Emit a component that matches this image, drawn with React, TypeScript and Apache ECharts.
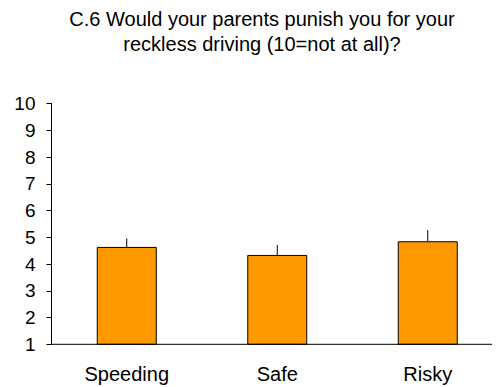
import React, { useEffect, useRef } from "react";
import * as echarts from "echarts";

const categories = ["Speeding", "Safe", "Risky"];
const means = [4.64, 4.34, 4.85];
const errors = [0.32, 0.37, 0.42];
const yTicks = { min: 1, max: 10, interval: 1 };
const titleLines = [
  "C.6 Would your parents punish you for your",
  "reckless driving (10=not at all)?",
];

const FONT = "'Liberation Sans', Arial, sans-serif";

export default function App() {
  const ref = useRef<HTMLDivElement>(null);
  useEffect(() => {
    if (!ref.current) return;
    const chart = echarts.init(ref.current, undefined, { renderer: "svg" });
    const gridLeft = 51.5;
    const gridTop = 103.5;
    const gridBottomY = 344.3;
    chart.setOption({
      animation: false,
      backgroundColor: "#ffffff",
      textStyle: { fontFamily: FONT },
      grid: { left: gridLeft, right: 1, top: gridTop, bottom: 387 - gridBottomY, containLabel: false },
      xAxis: {
        type: "category",
        data: categories,
        axisLine: { show: false },
        axisTick: { show: false },
        axisLabel: { color: "#000", fontSize: 20, fontFamily: FONT, margin: 20 },
      },
      yAxis: {
        type: "value",
        min: yTicks.min,
        max: yTicks.max,
        interval: yTicks.interval,
        splitLine: { show: false },
        axisLine: { show: true, lineStyle: { color: "#000", width: 1 } },
        axisTick: { show: true, length: 5, lineStyle: { color: "#000" } },
        axisLabel: { color: "#000", fontSize: 19, fontFamily: FONT, margin: 16 },
      },
      graphic: [
        {
          type: "text",
          x: 262,
          y: 6,
          style: {
            text: titleLines.join("\n"),
            fontSize: 20,
            lineHeight: 25,
            fontFamily: FONT,
            fill: "#000",
            align: "center",
          },
        },
        {
          type: "line",
          shape: { x1: gridLeft, y1: gridBottomY, x2: 492, y2: gridBottomY },
          style: { stroke: "#000", lineWidth: 1 },
          z: 10,
        },
      ],
      series: [
        {
          type: "bar",
          data: means,
          barWidth: 60,
          itemStyle: { color: "#FF9900", borderColor: "#000", borderWidth: 1 },
          z: 2,
        },
        {
          type: "custom",
          data: means.map((m, i) => [i, m, m + errors[i]]),
          z: 3,
          renderItem: (params: any, api: any) => {
            const p1 = api.coord([api.value(0), api.value(1)]);
            const p2 = api.coord([api.value(0), api.value(2)]);
            return {
              type: "line",
              shape: { x1: p1[0], y1: p1[1], x2: p2[0], y2: p2[1] },
              style: { stroke: "#000", lineWidth: 1 },
            };
          },
        },
      ],
    });
    return () => chart.dispose();
  }, []);
  return <div ref={ref} style={{ width: 504, height: 387, position: "absolute", left: 0, top: 0 }} />;
}
